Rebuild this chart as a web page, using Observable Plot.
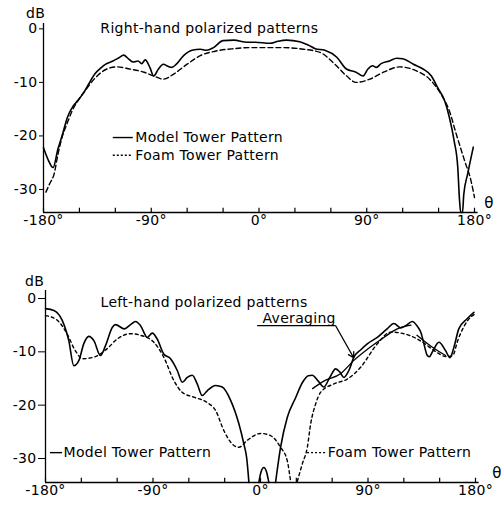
<!DOCTYPE html>
<html>
<head>
<meta charset="utf-8">
<script src="https://cdn.jsdelivr.net/npm/d3@7"></script>
<script src="https://cdn.jsdelivr.net/npm/@observablehq/plot@0.6"></script>
<style>
  html, body { margin: 0; padding: 0; background: #fff; }
  #wrap { width: 501px; height: 505px; overflow: hidden; }
  svg { display: block; }
  svg text { letter-spacing: 0.3px; }
</style>
</head>
<body>
<div id="wrap"></div>
<script>
// ---------- DATA (angle in degrees, level in dB) ----------
const xTickValues = [-180, -150, -120, -90, -60, -30, 0, 30, 60, 90, 120, 150, 180];
const xLabelValues = [-180, -90, 0, 90, 180];
const yTickValues = [0, -10, -20, -30];

const topTitle = "Right-hand polarized patterns";
const bottomTitle = "Left-hand polarized patterns";
const seriesNames = ["Model Tower Pattern", "Foam Tower Pattern"];
const averagingLabel = "Averaging";

// Right-hand polarized: model tower (solid)
const rhModel = [
  [-180,-22.2],[-176,-24.5],[-172,-25.9],[-168,-22.5],[-164,-19.6],[-160,-16.5],[-156,-14.7],
  [-151,-13.3],[-147,-12.1],[-142,-10.2],[-137,-8.4],[-132,-7.3],[-128,-6.6],[-122,-6.0],
  [-117,-5.4],[-113,-4.9],[-109,-5.6],[-105,-6.2],[-101,-6.0],[-98,-6.5],[-95,-5.8],
  [-91,-7.3],[-88,-8.8],[-84,-7.5],[-80,-6.6],[-76,-7.0],[-73,-7.2],[-69,-6.6],[-63,-5.0],
  [-56,-4.0],[-49,-3.8],[-44,-4.0],[-38,-3.5],[-30,-2.2],[-21,-2.1],[-10,-2.5],[-3,-2.5],
  [9,-2.7],[16,-2.3],[23,-2.1],[34,-2.4],[41,-3.0],[47,-3.7],[55,-4.0],[65,-5.3],[73,-7.5],
  [81,-8.1],[87,-8.8],[91,-7.5],[95,-6.9],[98,-7.2],[102,-6.5],[109,-6.0],[115,-5.5],
  [120,-5.6],[129,-6.6],[137,-7.5],[144,-8.8],[149,-10.9],[155,-13.4],[159,-16.5],
  [163,-20.9],[166,-25.8],[167.5,-32],[168.5,-34.3],[170,-34.3],[171,-31],[174.4,-27],[179,-22.1]
];
// Right-hand polarized: foam tower (dashed)
const rhFoam = [
  [-178,-30.5],[-175,-29],[-171,-27],[-168,-23.5],[-164.4,-20.2],[-160,-17.5],[-156,-15.3],
  [-150,-13],[-145,-11.5],[-140,-10],[-135,-8.75],[-127,-7.5],[-119,-7.1],[-108,-7.5],
  [-96,-8.1],[-88,-8.8],[-80,-9.4],[-71,-8.4],[-60,-6.6],[-49,-5.0],[-35,-4.1],[-21,-3.7],
  [-7.5,-3.5],[20,-3.5],[37,-3.8],[51,-4.4],[62,-6.3],[73,-8.75],[81,-10],[92.5,-9.4],
  [104,-8.1],[117.5,-7.1],[131,-7.8],[142.5,-9.4],[152,-12.2],[159,-15.3],[164.7,-19.6],
  [171.7,-24.6],[177,-28.3],[180,-31.5]
];

// Left-hand polarized: model tower (solid), three pieces above the floor
const lhModelA = [
  [-180,-1.9],[-173,-2.25],[-166,-4.1],[-160.5,-7.9],[-156.3,-12.6],[-152,-11.6],[-148,-8.5],
  [-143.7,-7.1],[-139.5,-7.9],[-134,-10.7],[-129.7,-8.8],[-124,-5.4],[-121.4,-4.9],[-114,-5.7],
  [-108.8,-4.9],[-104.6,-4.3],[-100.4,-5.1],[-94.8,-7.3],[-90.6,-6.5],[-86.5,-7.6],[-81,-10.4],
  [-75.3,-11.3],[-69.7,-13.5],[-65.5,-15.7],[-61.3,-14.8],[-57.1,-14.4],[-53,-16.0],
  [-48.8,-18.2],[-44.6,-17.3],[-37.6,-16.3],[-32,-16.6],[-25,-19.1],[-18.1,-23.5],
  [-13.9,-27.3],[-11.5,-30],[-9.7,-34.5]
];
const lhModelB = [[-1.4,-34.5],[0.5,-32.5],[2.8,-31.7],[5,-32.5],[7,-34.5]];
const lhModelC = [
  [12.6,-34.5],[16.8,-27.9],[22.4,-22.3],[29.4,-18.6],[35,-15.8],[40,-14.5],[43.4,-14.4],
  [48,-15.4],[53,-16.6],[58,-14.8],[62.9,-13.2],[66.5,-13.8],[69.8,-14.8],[74,-13.5],
  [78.2,-11.0],[84,-9.6],[89.4,-8.5],[97.8,-7.3],[106,-5.7],[111.7,-4.7],[117.3,-5.5],
  [121.5,-5.1],[127,-4.3],[131.3,-5.2],[134.5,-6.5],[136.8,-8.5],[139.7,-10.7],[141.5,-10.9],
  [143.9,-10.0],[149.4,-8.2],[155,-9.8],[158.6,-11.1],[162,-9.1],[166,-5.7],[173,-3.8],
  [178.7,-2.6]
];
// Left-hand polarized: foam tower (dashed), two pieces
const lhFoamA = [
  [-180,-3.2],[-170,-4.1],[-162,-6.6],[-155,-9.8],[-149,-11.3],[-139.5,-11.0],[-128.3,-9.4],
  [-120,-7.6],[-108.8,-6.6],[-100.4,-6.9],[-89.3,-8.2],[-81,-11.0],[-72.5,-15.4],[-65.5,-17.6],
  [-55.8,-18.5],[-44.6,-19.5],[-37.6,-21.0],[-30.6,-24.8],[-23.6,-27.3],[-18.1,-27.9],
  [-11.1,-26.6],[0.1,-25.3],[8.4,-25.7],[16.8,-27.9],[22.4,-30.4],[25.2,-34.3]
];
const lhFoamB = [
  [30.8,-34.3],[35,-31.0],[39.2,-27.9],[42,-23.5],[46.1,-19.8],[50.3,-17.6],[61.5,-16.0],
  [72.7,-15.1],[83.8,-12.9],[97.8,-8.5],[109,-6.3],[124.5,-6.9],[135.7,-8.2],[147,-10],
  [155.3,-10.9],[160.9,-10.7],[165.1,-7.9],[170.7,-5.1],[177.6,-3.2],[180,-2.9]
];
// Left-hand polarized: averaging curves (solid)
const lhAverageA = [
  [43.6,-16.9],[53,-15.5],[67,-14.1],[78.2,-11.6],[92,-9.1],[103.3,-7.3],[114.5,-5.7],[126,-5.0]
];
const lhAverageB = [[131,-6.9],[143,-9.0],[155,-10.7]];

// ---------- DRAWING ----------
const FONT = "'DejaVu Sans', sans-serif";
const FS = 14;
const px = d => d[0], py = d => d[1];

function frame(yMin, yMax, tickLen, ySize, xEnd) {
  return [
    Plot.ruleY([yMin], {x1: -180, x2: xEnd, stroke: "black", strokeWidth: 1.3}),
    Plot.ruleX([-180], {y1: yMin, y2: yMax, stroke: "black", strokeWidth: 1.3}),
    Plot.ruleX(xTickValues, {y1: yMin, y2: yMin + tickLen, stroke: "black", strokeWidth: 1.2}),
    Plot.axisX({ticks: xLabelValues, tickSize: 0, tickPadding: 3, tickFormat: d => `${d}°`, fontSize: FS}),
    Plot.axisY({ticks: yTickValues, tickSize: ySize, tickPadding: 2, tickFormat: d => `${d}`, fontSize: FS})
  ];
}

const lineOpts = {x: px, y: py, stroke: "black", strokeWidth: 1.6, curve: "monotone-x"};

// Top chart
const topChart = Plot.plot({
  width: 501, height: 240,
  marginLeft: 43, marginRight: 27, marginTop: 23, marginBottom: 28,
  x: {domain: [-180, 180], axis: null},
  y: {domain: [-34.3, 1], axis: null},
  style: {fontFamily: FONT, fontSize: FS + "px", color: "black", background: "white", overflow: "visible"},
  marks: [
    ...frame(-34.3, 1, 0.8, 4, 183),
    Plot.line(rhFoam, {...lineOpts, strokeDasharray: "5,3", strokeWidth: 1.4}),
    Plot.line(rhModel, lineOpts),
    Plot.text([topTitle], {x: -132.5, y: 0, text: d => d, textAnchor: "start", fontSize: FS}),
    Plot.text(["dB"], {x: -180, y: 0, dx: -8, dy: -15, text: d => d, fontSize: FS}),
    Plot.text(["θ"], {x: 192, y: -34.3, dy: -9, text: d => d, fontSize: 15}),
    Plot.ruleY([-20.3], {x1: -121.7, x2: -105, stroke: "black", strokeWidth: 1.4}),
    Plot.ruleY([-23.6], {x1: -121.7, x2: -105, stroke: "black", strokeWidth: 1.4, strokeDasharray: "2,2"}),
    Plot.text([seriesNames[0]], {x: -103.3, y: -20.3, text: d => d, textAnchor: "start", fontSize: FS}),
    Plot.text([seriesNames[1]], {x: -103.3, y: -23.6, text: d => d, textAnchor: "start", fontSize: FS})
  ]
});

// Bottom chart
const bottomChart = Plot.plot({
  width: 501, height: 265,
  marginLeft: 45, marginRight: 26, marginTop: 50, marginBottom: 23,
  x: {domain: [-180, 180], axis: null},
  y: {domain: [-34.5, 1.5], axis: null},
  style: {fontFamily: FONT, fontSize: FS + "px", color: "black", background: "white", overflow: "visible"},
  marks: [
    ...frame(-34.5, 1.5, 0.8, 7, 183),
    Plot.line(lhFoamA, {...lineOpts, strokeDasharray: "3,3", strokeWidth: 1.4}),
    Plot.line(lhFoamB, {...lineOpts, strokeDasharray: "3,3", strokeWidth: 1.4}),
    Plot.line(lhModelA, lineOpts),
    Plot.line(lhModelB, lineOpts),
    Plot.line(lhModelC, lineOpts),
    Plot.line(lhAverageA, {...lineOpts, strokeWidth: 1.3}),
    Plot.line(lhAverageB, {...lineOpts, strokeWidth: 1.3}),
    Plot.text([bottomTitle], {x: -133.9, y: -0.75, text: d => d, textAnchor: "start", fontSize: FS}),
    Plot.text(["dB"], {x: -180, y: 0, dx: -11, dy: -17, text: d => d, fontSize: FS}),
    Plot.text(["θ"], {x: 198, y: -34.5, dy: -9, text: d => d, fontSize: 15}),
    Plot.text([averagingLabel], {x: 1.7, y: -3.75, text: d => d, textAnchor: "start", fontSize: FS}),
    Plot.ruleY([-5.1], {x1: -2.4, x2: 62.9, stroke: "black", strokeWidth: 1.3}),
    Plot.arrow([0], {x1: 62.9, y1: -5.1, x2: 78, y2: -11.1, stroke: "black", strokeWidth: 1.3, headLength: 7}),
    Plot.ruleY([-28.9], {x1: -175.8, x2: -165.7, stroke: "black", strokeWidth: 1.4}),
    Plot.text([seriesNames[0]], {x: -164.9, y: -28.9, text: d => d, textAnchor: "start", fontSize: FS}),
    Plot.ruleY([-28.9], {x1: 39.4, x2: 54.5, stroke: "black", strokeWidth: 1.4, strokeDasharray: "2,2"}),
    Plot.text([seriesNames[1]], {x: 56.2, y: -28.9, text: d => d, textAnchor: "start", fontSize: FS})
  ]
});

const wrap = document.getElementById("wrap");
wrap.appendChild(topChart);
wrap.appendChild(bottomChart);
</script>
</body>
</html>
